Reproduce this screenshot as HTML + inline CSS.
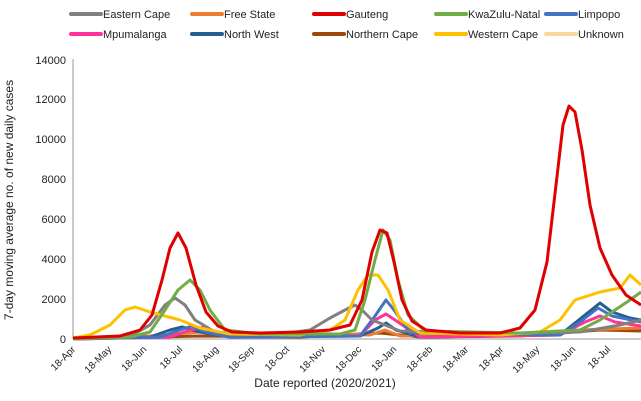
<!DOCTYPE html>
<html><head><style>
body{margin:0;background:#fff;}
svg{display:block;font-family:"Liberation Sans",sans-serif;}
</style></head><body>
<svg width="641" height="401" viewBox="0 0 641 401">
<g font-size="11" fill="#222">
<g stroke-width="4" stroke-linecap="round">
<line x1="71" y1="14" x2="101" y2="14" stroke="#808080"/>
<line x1="192" y1="14" x2="222" y2="14" stroke="#ed7d31"/>
<line x1="314" y1="14" x2="344" y2="14" stroke="#e00000"/>
<line x1="436" y1="14" x2="466" y2="14" stroke="#70ad47"/>
<line x1="546" y1="14" x2="576" y2="14" stroke="#4472c4"/>
<line x1="71" y1="34" x2="101" y2="34" stroke="#ff3399"/>
<line x1="192" y1="34" x2="222" y2="34" stroke="#255e91"/>
<line x1="314" y1="34" x2="344" y2="34" stroke="#9e480e"/>
<line x1="436" y1="34" x2="466" y2="34" stroke="#ffc000"/>
<line x1="546" y1="34" x2="576" y2="34" stroke="#f8d8a0"/>
</g>
<text x="103" y="18">Eastern Cape</text>
<text x="224" y="18">Free State</text>
<text x="346" y="18">Gauteng</text>
<text x="468" y="18">KwaZulu-Natal</text>
<text x="578" y="18">Limpopo</text>
<text x="103" y="38">Mpumalanga</text>
<text x="224" y="38">North West</text>
<text x="346" y="38">Northern Cape</text>
<text x="468" y="38">Western Cape</text>
<text x="578" y="38">Unknown</text>
</g>
<g font-size="11" fill="#222" text-anchor="end">
<text x="66" y="343">0</text>
<text x="66" y="303">2000</text>
<text x="66" y="263">4000</text>
<text x="66" y="223">6000</text>
<text x="66" y="183">8000</text>
<text x="66" y="143">10000</text>
<text x="66" y="103">12000</text>
<text x="66" y="64">14000</text>
</g>
<text transform="translate(13,200) rotate(-90)" font-size="12" text-anchor="middle" fill="#222">7-day moving average no. of new daily cases</text>
<line x1="73" y1="59" x2="73" y2="339" stroke="#999"/>
<line x1="73" y1="339" x2="641" y2="339" stroke="#999"/>
<g font-size="10" fill="#222" text-anchor="end">
<text transform="translate(76,350) rotate(-45)">18-Apr</text>
<text transform="translate(112,350) rotate(-45)">18-May</text>
<text transform="translate(147,350) rotate(-45)">18-Jun</text>
<text transform="translate(183,350) rotate(-45)">18-Jul</text>
<text transform="translate(219,350) rotate(-45)">18-Aug</text>
<text transform="translate(255,350) rotate(-45)">18-Sep</text>
<text transform="translate(290,350) rotate(-45)">18-Oct</text>
<text transform="translate(326,350) rotate(-45)">18-Nov</text>
<text transform="translate(362,350) rotate(-45)">18-Dec</text>
<text transform="translate(397,350) rotate(-45)">18-Jan</text>
<text transform="translate(433,350) rotate(-45)">18-Feb</text>
<text transform="translate(469,350) rotate(-45)">18-Mar</text>
<text transform="translate(504,350) rotate(-45)">18-Apr</text>
<text transform="translate(540,350) rotate(-45)">18-May</text>
<text transform="translate(576,350) rotate(-45)">18-Jun</text>
<text transform="translate(611,350) rotate(-45)">18-Jul</text>
</g>
<text x="325" y="387" font-size="12" text-anchor="middle" fill="#222">Date reported (2020/2021)</text>
<g fill="none" stroke-width="3" stroke-linejoin="round">
<polyline stroke="#9e480e" points="73,339 200,336 300,337 380,333 420,337 520,336 560,333 600,330 641,331"/>
<polyline stroke="#ed7d31" points="73,339 150,336 200,332 240,334 300,333 370,335 385,330 400,336 520,336 580,330 641,328"/>
<polyline stroke="#255e91" points="73,339 150,337 170,330 182,327 200,332 230,337 360,336 378,328 386,323 396,330 420,337 560,335 585,315 600,303 612,312 630,318 641,320"/>
<polyline stroke="#ff3399" points="73,339 170,337 190,330 205,327 220,334 360,336 375,320 386,314 398,322 420,337 560,335 585,322 600,316 615,322 641,326"/>
<polyline stroke="#4472c4" points="73,339 160,337 180,330 192,326 205,332 230,337 360,336 375,316 386,300 394,310 410,333 560,335 580,322 598,308 612,316 641,322"/>
<polyline stroke="#808080" points="73,339 130,336 150,325 165,305 175,298 185,305 195,320 215,332 280,334 310,330 330,318 345,310 355,305 362,310 372,320 385,325 400,331 500,334 580,332 620,325 641,320"/>
<polyline stroke="#ffc000" points="73,338 90,335 110,325 125,310 135,307 150,312 165,316 180,320 200,328 230,334 300,335 330,330 345,320 358,290 368,275 378,275 388,290 400,320 420,333 500,335 540,332 560,320 575,300 600,292 620,288 630,275 641,285"/>
<polyline stroke="#70ad47" points="73,339 130,337 150,332 165,310 178,290 190,280 200,290 210,310 225,330 260,334 340,334 355,330 365,300 375,260 383,230 390,240 398,280 408,315 425,331 520,333 580,330 600,320 615,310 630,300 641,292"/>
<polyline stroke="#e00000" points="73,338 120,336 140,330 152,315 162,280 170,248 178,233 186,248 196,285 206,312 218,326 232,332 260,333 300,332 330,330 350,325 362,300 372,252 380,230 387,233 394,262 402,300 412,321 426,330 460,333 500,333 520,328 535,310 547,262 556,185 563,125 569,106 575,112 582,150 590,205 600,248 612,275 626,295 641,305"/>
</g>
</svg>
</body></html>
